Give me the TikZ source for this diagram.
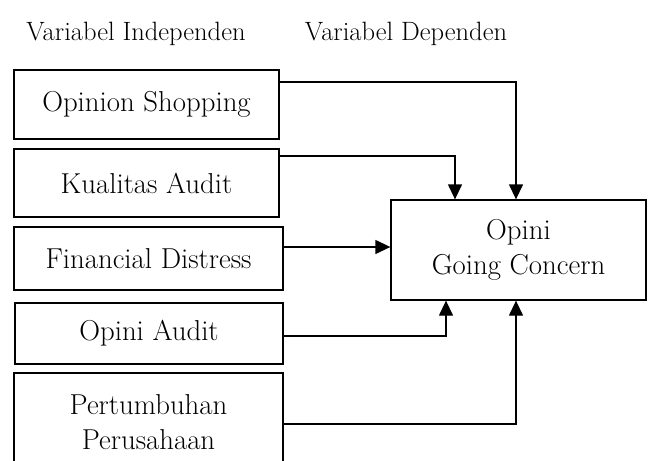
\documentclass[tikz,border=0pt]{standalone}
\usetikzlibrary{arrows.meta,calc}
\begin{document}
\begin{tikzpicture}[x=1pt, y=-1pt,
  box/.style={draw, line width=1.3pt, inner sep=0pt, align=center},
  arr/.style={line width=1.3pt, -{Triangle[length=15pt,width=14pt]}},
  head/.style={anchor=base, font=\fontsize{26.5}{32}\selectfont},
  every node/.style={font=\fontsize{28.8}{35}\selectfont}]

 \useasboundingbox (0,0) rectangle (649,461);
 \clip (0,0) rectangle (649,461);

 %headers
 \node[head] (hind) at (136,40) {Variabel Independen};
 \node[head] (hdep) at (406,40) {Variabel Dependen};

 %independent boxes
 \foreach \nm/\xl/\xr/\yt/\yb/\txt in {os/14/279/70/139/{Opinion Shopping},
        ka/14/279/149/217/{Kualitas Audit},
        fd/14/283/227/290/{Financial Distress},
        oa/15/283/303/364/{Opini Audit},
        pp/14/283/373/472/{Pertumbuhan\\Perusahaan}} {
   \node[box, minimum width=\xr-\xl, minimum height=\yb-\yt] (\nm) at ({(\xl+\xr)/2},{(\yt+\yb)/2}) {\txt};
 }

 %dependent box
 \node[box, minimum width=255, minimum height=100] (ogc) at (518.5,250) {Opini\\Going Concern};

 %arrows
 \draw[arr] ($(os.east)+(0,-22.5)$) -| ($(ogc.north)+(-2.5,0)$);
 \draw[arr] ($(ka.east)+(0,-27)$) -| ($(ogc.north)+(-63.5,0)$);
 \draw[arr] ($(fd.east)+(0,-11.5)$) coordinate (f1) -- (f1 -| ogc.west);
 \draw[arr] ($(oa.east)+(0,2.5)$) -| ($(ogc.south)+(-72.5,0)$);
 \draw[arr] ($(pp.east)+(0,1.5)$) -| ($(ogc.south)+(-2.5,0)$);

\end{tikzpicture}
\end{document}
